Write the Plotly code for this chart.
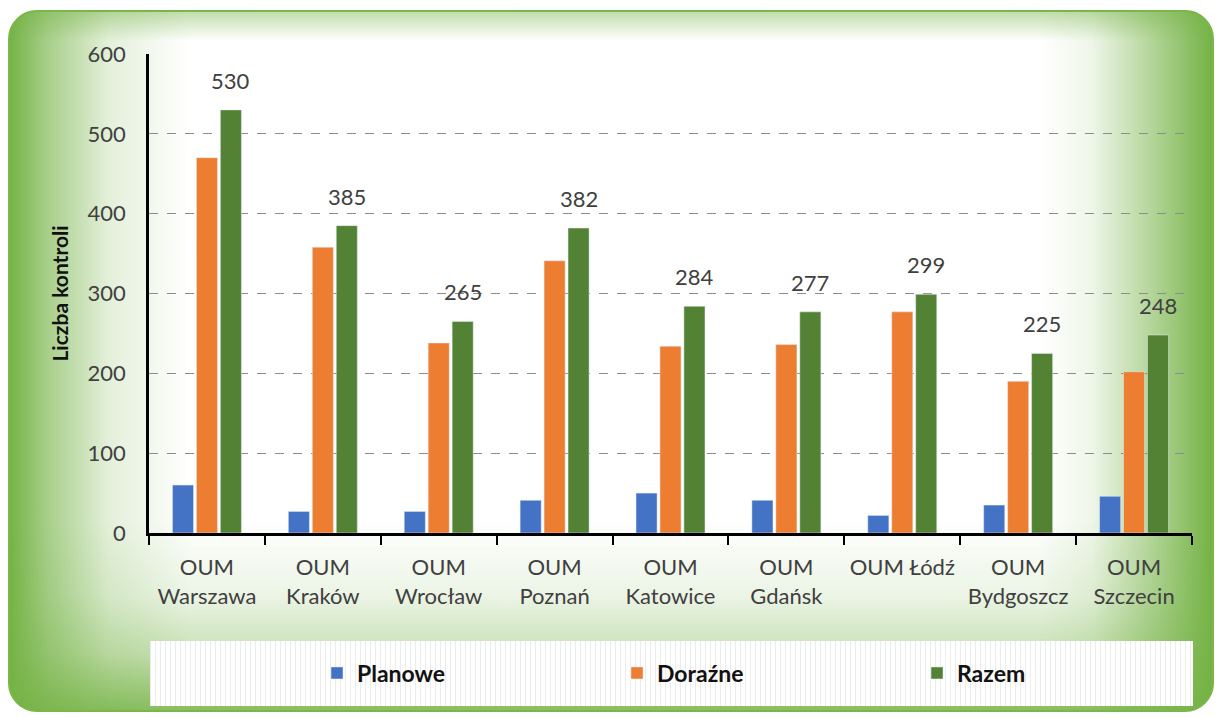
import base64
import plotly.graph_objects as go

categories = ["OUM<br>Warszawa", "OUM<br>Kraków", "OUM<br>Wrocław", "OUM<br>Poznań",
              "OUM<br>Katowice", "OUM<br>Gdańsk", "OUM Łódź", "OUM<br>Bydgoszcz", "OUM<br>Szczecin"]
planowe = [60, 27, 27, 41, 50, 41, 22, 35, 46]
dorazne = [470, 358, 238, 341, 234, 236, 277, 190, 202]
razem = [530, 385, 265, 382, 284, 277, 299, 225, 248]
y_ticks = [0, 100, 200, 300, 400, 500, 600]

W, H = 1221, 718
L, R, T, B = 149, 29, 54, 185
pw, ph = W - L - R, H - T - B
BARGAP = 0.38

G = "#74b244"
svg = f'''<svg xmlns="http://www.w3.org/2000/svg" width="{W}" height="{H}" viewBox="0 0 {W} {H}" preserveAspectRatio="none">
<defs>
<clipPath id="c"><rect x="9" y="11" width="1204" height="700" rx="28" ry="28"/></clipPath>
<linearGradient id="gl" x1="0" y1="0" x2="1" y2="0">
<stop offset="0" stop-color="{G}" stop-opacity="1"/>
<stop offset="0.22" stop-color="{G}" stop-opacity="0.62"/>
<stop offset="0.55" stop-color="{G}" stop-opacity="0.2"/>
<stop offset="1" stop-color="{G}" stop-opacity="0"/>
</linearGradient>
<linearGradient id="gr" x1="1" y1="0" x2="0" y2="0">
<stop offset="0" stop-color="{G}" stop-opacity="1"/>
<stop offset="0.35" stop-color="{G}" stop-opacity="0.55"/>
<stop offset="0.7" stop-color="{G}" stop-opacity="0.12"/>
<stop offset="1" stop-color="{G}" stop-opacity="0"/>
</linearGradient>
<linearGradient id="gb" x1="0" y1="1" x2="0" y2="0">
<stop offset="0" stop-color="{G}" stop-opacity="0.85"/>
<stop offset="0.3" stop-color="{G}" stop-opacity="0.4"/>
<stop offset="0.6" stop-color="{G}" stop-opacity="0.14"/>
<stop offset="1" stop-color="{G}" stop-opacity="0"/>
</linearGradient>
<linearGradient id="gt" x1="0" y1="0" x2="0" y2="1">
<stop offset="0" stop-color="{G}" stop-opacity="0.45"/>
<stop offset="1" stop-color="{G}" stop-opacity="0"/>
</linearGradient>
<pattern id="p" width="5" height="10" patternUnits="userSpaceOnUse">
<rect width="5" height="10" fill="#ffffff"/>
<rect width="1" height="10" fill="#ececec"/>
</pattern>
</defs>
<g clip-path="url(#c)">
<rect x="9" y="11" width="1204" height="700" fill="#ffffff"/>
<rect x="9" y="11" width="180" height="700" fill="url(#gl)"/>
<rect x="1040" y="11" width="173" height="700" fill="url(#gr)"/>
<rect x="9" y="520" width="1204" height="191" fill="url(#gb)"/>
<rect x="9" y="11" width="1204" height="30" fill="url(#gt)"/>
</g>
<rect x="9" y="11" width="1204" height="700" rx="28" ry="28" fill="none" stroke="#7ab648" stroke-width="2"/>
<rect x="150" y="641" width="1043" height="65" fill="url(#p)"/>
</svg>'''
src = "data:image/svg+xml;base64," + base64.b64encode(svg.encode()).decode()

font = "Lato"
fig = go.Figure()
fig.add_trace(go.Bar(name="Planowe", x=categories, y=planowe, marker_color="#4472C4"))
fig.add_trace(go.Bar(name="Doraźne", x=categories, y=dorazne, marker_color="#ED7D31"))
fig.add_trace(go.Bar(name="Razem", x=categories, y=razem, marker_color="#548235"))

# value labels above the "Razem" bars (third bar of each group)
slot_px = (pw / len(categories)) * (1 - BARGAP) / 3
for c, v in zip(categories, razem):
    fig.add_annotation(x=c, y=v, text=str(v), showarrow=False, xanchor="center", yanchor="bottom",
                       xshift=slot_px, yshift=14,
                       font=dict(size=22, color="#404040", family=font))

fig.update_layout(
    width=W, height=H,
    margin=dict(l=L, r=R, t=T, b=B, autoexpand=False),
    paper_bgcolor="white", plot_bgcolor="rgba(0,0,0,0)",
    barmode="group", bargap=BARGAP, bargroupgap=0.12,
    font=dict(family=font, color="#404040"),
    images=[dict(source=src, xref="paper", yref="paper",
                 x=-L / pw, y=(ph + T) / ph, sizex=W / pw, sizey=H / ph,
                 xanchor="left", yanchor="top", sizing="stretch", layer="below")],
    legend=dict(orientation="h", x=(317 - L) / pw, xanchor="left",
                y=(533 - 673) / ph, yanchor="middle",
                bgcolor="rgba(0,0,0,0)", entrywidth=255, entrywidthmode="pixels",
                font=dict(size=23, color="#111111", family=font, weight="bold")),
    xaxis=dict(showline=True, linecolor="#000000", linewidth=2.5, automargin=False,
               ticks="outside", tickson="boundaries", ticklen=9, tickwidth=2, tickcolor="#000000",
               tickfont=dict(size=22, color="#404040"), ticklabelstandoff=13,
               showgrid=False),
    yaxis=dict(range=[0, 600], tickvals=y_ticks, showline=True, linecolor="#000000", linewidth=2.5,
               automargin=False,
               ticks="", tickfont=dict(size=22, color="#404040"), ticklabelstandoff=16,
               showgrid=True, gridcolor="#8c8c8c", griddash="dash", gridwidth=1, zeroline=False,
               title=dict(text="Liczba kontroli", standoff=14,
                          font=dict(size=21, color="#111111", weight="bold"))),
)

fig.write_html("out.html", config={"displayModeBar": False},
               post_script="document.body.style.margin='0';document.body.style.overflow='hidden';")
